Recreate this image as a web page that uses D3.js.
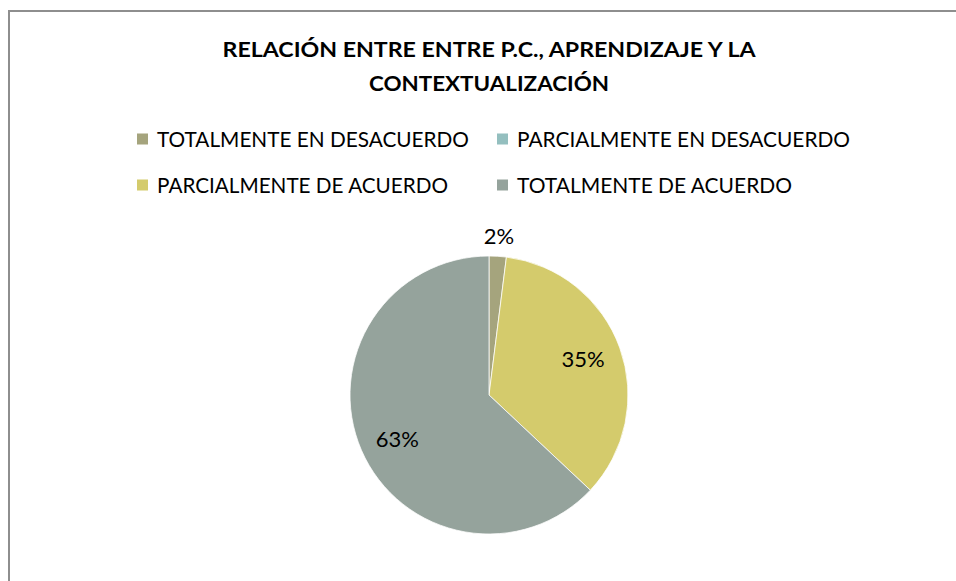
<!DOCTYPE html>
<html>
<head>
<meta charset="utf-8">
<script src="https://cdn.jsdelivr.net/npm/d3@7"></script>
<style>
  body { margin: 0; background: #fff; }
  svg { display: block; font-family: Lato, "Open Sans", sans-serif; }
</style>
</head>
<body>
<svg id="pie-chart" width="956" height="581"></svg>
<script>
// chart data
var categories = ["TOTALMENTE EN DESACUERDO", "PARCIALMENTE EN DESACUERDO", "PARCIALMENTE DE ACUERDO", "TOTALMENTE DE ACUERDO"]
var values = [2, 0, 35, 63]
var colors = ["#A5A47D", "#94BFBF", "#D4CB6C", "#95A39C"]
var titleLines = ["RELACIÓN ENTRE ENTRE P.C., APRENDIZAJE Y LA", "CONTEXTUALIZACIÓN"]

var svg = d3.select("#pie-chart")

// outer frame (runs past the right and bottom edges)
svg.append("rect")
    .attr("x", 9)
    .attr("y", 11)
    .attr("width", 1000)
    .attr("height", 700)
    .attr("fill", "none")
    .attr("stroke", "#8e8e8e")
    .attr("stroke-width", 2)

var drawTitle = function() {
    svg.selectAll(".title")
      .data(titleLines)
      .enter()
      .append("text")
        .attr("class", "title")
        .attr("x", 489)
        .attr("y", function(d, i) { return 57 + i * 34 })
        .attr("text-anchor", "middle")
        .attr("textLength", function(d, i) { return i == 0 ? 533 : 240 })
        .attr("lengthAdjust", "spacingAndGlyphs")
        .style("font-size", "20px")
        .style("font-weight", "bold")
        .style("fill", "#000")
        .text(function(d) { return d })
}

var drawLegend = function(color) {
    var size = 11
    var pos = [[137, 139], [497, 139], [137, 185], [497, 185]]
    var widths = [312, 333, 291, 275]
    var items = svg.selectAll(".legend")
      .data(categories)
      .enter()
      .append("g")
        .attr("class", "legend")
        .attr("transform", function(d, i) { return "translate(" + pos[i][0] + "," + pos[i][1] + ")" })

    items.append("rect")
        .attr("x", 0)
        .attr("y", -size / 2)
        .attr("width", size)
        .attr("height", size)
        .style("fill", function(d) { return color(d) })

    items.append("text")
        .attr("x", 20)
        .attr("y", 7.5)
        .attr("textLength", function(d, i) { return widths[i] })
        .attr("lengthAdjust", "spacingAndGlyphs")
        .style("font-size", "21px")
        .style("fill", "#000")
        .text(function(d) { return d })
}

var drawPie = function(color) {
    var radius = 139
    var data = categories.map(function(c, i) { return {name: c, value: values[i]} })

    var pie = d3.pie()
        .sort(null)
        .value(function(d) { return d.value })

    var arc = d3.arc().innerRadius(0).outerRadius(radius)
    var labelArc = d3.arc().innerRadius(100).outerRadius(100)
    var outerArc = d3.arc().innerRadius(157).outerRadius(157)

    var target = svg.append("g")
        .attr("transform", "translate(489,395)")

    var arcs = pie(data).filter(function(d) { return d.data.value > 0 })

    target.selectAll("path")
      .data(arcs)
      .enter()
      .append("path")
        .attr("d", arc)
        .attr("fill", function(d) { return color(d.data.name) })
        .attr("stroke", "#fff")
        .attr("stroke-width", 0.75)

    target.selectAll(".pct")
      .data(arcs)
      .enter()
      .append("text")
        .attr("class", "pct")
        .attr("transform", function(d) {
            var c = d.data.value < 5 ? outerArc.centroid(d) : labelArc.centroid(d)
            return "translate(" + c[0] + "," + (c[1] + (d.data.value > 50 ? 5 : -2)) + ")"
        })
        .attr("text-anchor", "middle")
        .attr("dy", "0.35em")
        .style("font-size", "22px")
        .style("fill", "#000")
        .text(function(d) { return d.data.value + "%" })
}

var color = d3.scaleOrdinal()
    .domain(categories)
    .range(colors)

drawTitle()
drawLegend(color)
drawPie(color)
</script>
</body>
</html>
